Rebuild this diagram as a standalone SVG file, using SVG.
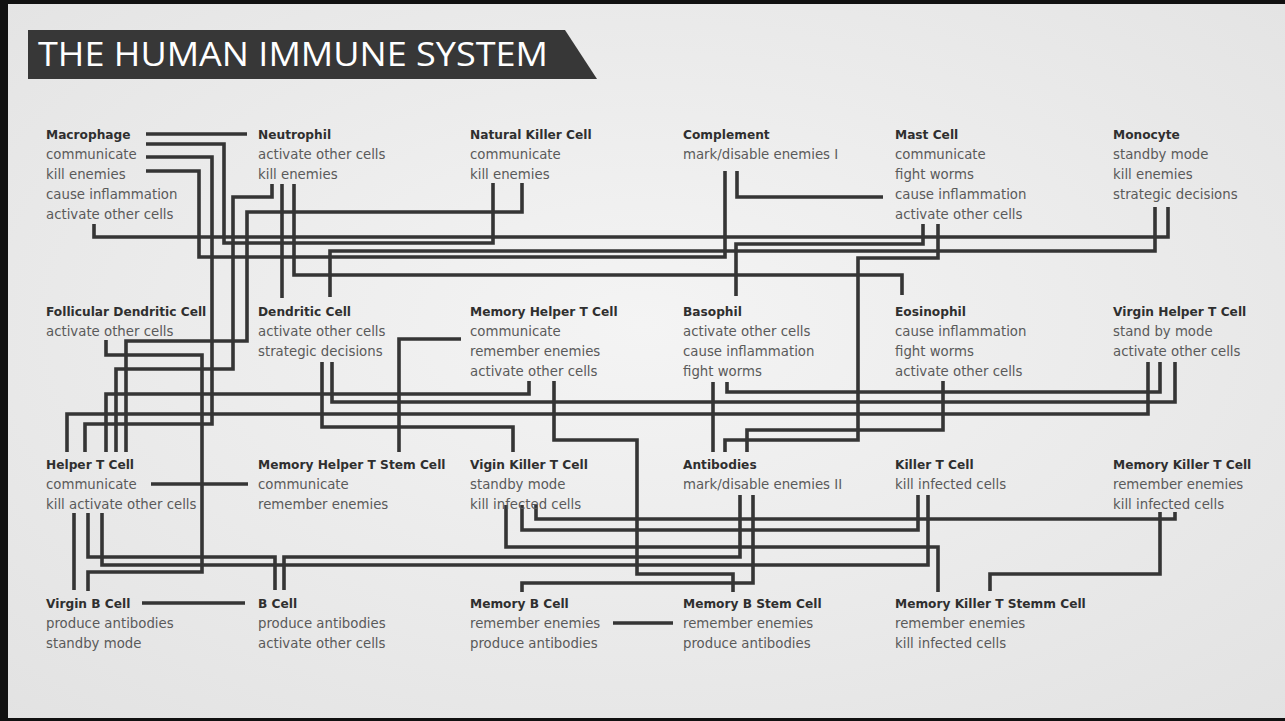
<svg xmlns="http://www.w3.org/2000/svg" width="1285" height="721" viewBox="0 0 1285 721">
<defs>
<radialGradient id="bg" cx="0.5" cy="0.45" r="0.75">
<stop offset="0" stop-color="#f4f4f4"/>
<stop offset="1" stop-color="#e2e2e2"/>
</radialGradient>
<style>
.h{font-family:"DejaVu Sans",sans-serif;font-weight:bold;font-size:12.2px;fill:#2f2f2f}
.t{font-family:"DejaVu Sans",sans-serif;font-size:13.3px;fill:#5a5a5a}
.c path{fill:none;stroke:#353535;stroke-width:3.6;stroke-linejoin:miter;stroke-linecap:butt}
</style>
</defs>
<rect width="1285" height="721" fill="url(#bg)"/>
<rect x="0" y="0" width="1285" height="4" fill="#111"/>
<rect x="0" y="0" width="8" height="721" fill="#111"/>
<rect x="0" y="718" width="1285" height="3" fill="#111"/>
<g id="title">
<polygon points="28,30 565,30 597,79 28,79" fill="#373737"/>
<text x="38" y="66" font-family="Open Sans, sans-serif" font-size="32" fill="#ffffff" textLength="510" lengthAdjust="spacingAndGlyphs">THE HUMAN IMMUNE SYSTEM</text>
</g>
<g class="c" id="connectors">
<path d="M146,134 H247"/>
<path d="M146,144 H224 V243 H493 V183"/>
<path d="M146,157 H212 V424 H85 V452"/>
<path d="M146,171 H199 V257 H725 V171"/>
<path d="M94,224 V237 H1168 V207"/>
<path d="M272,184 V197 H233 V369 H116 V452"/>
<path d="M282,184 V298"/>
<path d="M294,184 V275 H902 V295"/>
<path d="M522,183 V212 H247 V341 H126 V452"/>
<path d="M737,171 V197 H883"/>
<path d="M923,224 V244 H736 V296"/>
<path d="M938,224 V258 H858 V440 H725 V452"/>
<path d="M1155,207 V251 H330 V297"/>
<path d="M106,340 V355 H202 V572 H88 V591"/>
<path d="M332,362 V402 H1175 V362"/>
<path d="M322,362 V427 H513 V452"/>
<path d="M461,339 H399 V452"/>
<path d="M529,381 V394 H106 V452"/>
<path d="M554,381 V440 H637 V574 H733 V592"/>
<path d="M727,382 V392 H1160 V362"/>
<path d="M713,382 V452"/>
<path d="M943,381 V430 H747 V452"/>
<path d="M1148,362 V414 H67 V452"/>
<path d="M151,484 H248"/>
<path d="M74,513 V590"/>
<path d="M88,513 V557 H275 V590"/>
<path d="M102,513 V565 H928 V495"/>
<path d="M284,590 V557 H740 V495"/>
<path d="M536,505 V519 H1175 V512"/>
<path d="M522,505 V530 H918 V495"/>
<path d="M506,505 V547 H938 V592"/>
<path d="M753,495 V583 H522 V592"/>
<path d="M1160,512 V574 H990 V591"/>
<path d="M142,603 H245"/>
<path d="M613,623 H673"/>
</g>
<g id="macrophage"><text class="h" x="46" y="139">Macrophage</text><text class="t" x="46" y="159">communicate</text><text class="t" x="46" y="179">kill enemies</text><text class="t" x="46" y="199">cause inflammation</text><text class="t" x="46" y="219">activate other cells</text></g>
<g id="neutrophil"><text class="h" x="258" y="139">Neutrophil</text><text class="t" x="258" y="159">activate other cells</text><text class="t" x="258" y="179">kill enemies</text></g>
<g id="nk-cell"><text class="h" x="470" y="139">Natural Killer Cell</text><text class="t" x="470" y="159">communicate</text><text class="t" x="470" y="179">kill enemies</text></g>
<g id="complement"><text class="h" x="683" y="139">Complement</text><text class="t" x="683" y="159">mark/disable enemies I</text></g>
<g id="mast-cell"><text class="h" x="895" y="139">Mast Cell</text><text class="t" x="895" y="159">communicate</text><text class="t" x="895" y="179">fight worms</text><text class="t" x="895" y="199">cause inflammation</text><text class="t" x="895" y="219">activate other cells</text></g>
<g id="monocyte"><text class="h" x="1113" y="139">Monocyte</text><text class="t" x="1113" y="159">standby mode</text><text class="t" x="1113" y="179">kill enemies</text><text class="t" x="1113" y="199">strategic decisions</text></g>
<g id="follicular-dendritic"><text class="h" x="46" y="316">Follicular Dendritic Cell</text><text class="t" x="46" y="336">activate other cells</text></g>
<g id="dendritic"><text class="h" x="258" y="316">Dendritic Cell</text><text class="t" x="258" y="336">activate other cells</text><text class="t" x="258" y="356">strategic decisions</text></g>
<g id="memory-helper-t"><text class="h" x="470" y="316">Memory Helper T Cell</text><text class="t" x="470" y="336">communicate</text><text class="t" x="470" y="356">remember enemies</text><text class="t" x="470" y="376">activate other cells</text></g>
<g id="basophil"><text class="h" x="683" y="316">Basophil</text><text class="t" x="683" y="336">activate other cells</text><text class="t" x="683" y="356">cause inflammation</text><text class="t" x="683" y="376">fight worms</text></g>
<g id="eosinophil"><text class="h" x="895" y="316">Eosinophil</text><text class="t" x="895" y="336">cause inflammation</text><text class="t" x="895" y="356">fight worms</text><text class="t" x="895" y="376">activate other cells</text></g>
<g id="virgin-helper-t"><text class="h" x="1113" y="316">Virgin Helper T Cell</text><text class="t" x="1113" y="336">stand by mode</text><text class="t" x="1113" y="356">activate other cells</text></g>
<g id="helper-t"><text class="h" x="46" y="469">Helper T Cell</text><text class="t" x="46" y="489">communicate</text><text class="t" x="46" y="509">kill activate other cells</text></g>
<g id="memory-helper-t-stem"><text class="h" x="258" y="469">Memory Helper T Stem Cell</text><text class="t" x="258" y="489">communicate</text><text class="t" x="258" y="509">remember enemies</text></g>
<g id="vigin-killer-t"><text class="h" x="470" y="469">Vigin Killer T Cell</text><text class="t" x="470" y="489">standby mode</text><text class="t" x="470" y="509">kill infected cells</text></g>
<g id="antibodies"><text class="h" x="683" y="469">Antibodies</text><text class="t" x="683" y="489">mark/disable enemies II</text></g>
<g id="killer-t"><text class="h" x="895" y="469">Killer T Cell</text><text class="t" x="895" y="489">kill infected cells</text></g>
<g id="memory-killer-t"><text class="h" x="1113" y="469">Memory Killer T Cell</text><text class="t" x="1113" y="489">remember enemies</text><text class="t" x="1113" y="509">kill infected cells</text></g>
<g id="virgin-b"><text class="h" x="46" y="608">Virgin B Cell</text><text class="t" x="46" y="628">produce antibodies</text><text class="t" x="46" y="648">standby mode</text></g>
<g id="b-cell"><text class="h" x="258" y="608">B Cell</text><text class="t" x="258" y="628">produce antibodies</text><text class="t" x="258" y="648">activate other cells</text></g>
<g id="memory-b"><text class="h" x="470" y="608">Memory B Cell</text><text class="t" x="470" y="628">remember enemies</text><text class="t" x="470" y="648">produce antibodies</text></g>
<g id="memory-b-stem"><text class="h" x="683" y="608">Memory B Stem Cell</text><text class="t" x="683" y="628">remember enemies</text><text class="t" x="683" y="648">produce antibodies</text></g>
<g id="memory-killer-t-stemm"><text class="h" x="895" y="608">Memory Killer T Stemm Cell</text><text class="t" x="895" y="628">remember enemies</text><text class="t" x="895" y="648">kill infected cells</text></g>
</svg>
